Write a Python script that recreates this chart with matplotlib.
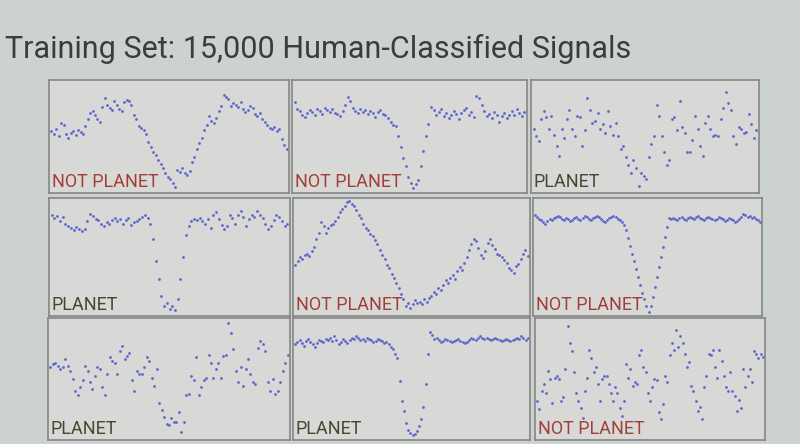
import numpy as np
import matplotlib
matplotlib.use("Agg")
import matplotlib.pyplot as plt

# light curve samples, height in % of panel (0 = bottom)
curve_1 = [55, 52, 57, 50, 63, 61, 52, 49, 53, 55, 51, 56, 54, 52,
           60, 66, 72, 74, 70, 66, 64, 78, 86, 80, 77, 75, 83, 80, 76, 74, 82, 84, 83, 80,
           70, 66, 60, 58, 56, 52, 45, 40, 35, 33, 28, 24, 20, 16, 12, 10, 6, 3,
           19, 17, 20, 16, 14, 18,
           26, 31, 38, 44, 49, 56, 61, 69, 65, 63, 67, 74, 79, 89, 87, 85,
           79, 81, 80, 78, 82, 76, 73, 75, 79, 77, 71, 69, 72, 66, 64, 61, 58, 57, 59, 55,
           57, 48, 42, 38]
curve_2 = [82, 76, 74, 70, 68, 72, 75, 73, 70, 76, 74, 71, 77, 75, 73, 76, 72, 71, 69, 74,
           80, 87, 83, 77, 74, 72, 76, 73, 75, 71, 74, 72, 68, 73, 75, 71, 70, 67, 64, 61,
           60, 50, 40, 30, 22, 12, 6, 2, 5, 9, 22, 36, 50, 62,
           78, 75, 70, 73, 76, 69, 72, 67, 70, 74, 71, 66, 72, 75, 77, 70, 73, 68, 88, 86,
           80, 74, 69, 71, 67, 73, 70, 64, 69, 72, 67, 70, 74, 70, 76, 72, 69, 73]
curve_3 = [57, 50, 46, 66, 74, 68, 57, 69, 51, 41, 32, 57, 49, 66, 75, 57, 50, 69, 68, 41,
           56, 86, 75, 63, 65, 72, 57, 62, 53, 74, 60, 51, 63, 50, 38, 41, 31, 23, 16, 28,
           20, 4, 16, 13, 10, 31, 43, 50, 80, 69, 50, 35, 23, 28, 66, 68, 56, 83, 59, 53,
           35, 35, 47, 69, 57, 41, 32, 63, 69, 57, 50, 51, 50, 66, 77, 92, 81, 75, 50, 43,
           59, 57, 53, 54, 71, 62, 49, 56]
curve_4 = [88, 85, 87, 82, 86, 80, 78, 76, 74, 77, 75, 73, 75, 82, 89, 87, 84, 83, 80, 78,
           81, 80, 83, 85, 82, 84, 80, 83, 85, 79, 81, 82, 84, 86, 88, 85, 80,
           66, 46, 30, 15, 6, 9, 3, 6, 2, 12, 30, 50, 70,
           78, 82, 84, 83, 85, 82, 80, 84, 76, 88, 90, 84, 79, 75, 78, 88, 85, 80, 88, 91,
           86, 78, 84, 88, 86, 91, 88, 85, 80, 75, 78, 83, 88, 86, 82, 78, 80]
curve_5 = [43, 46, 50, 48, 52, 53, 51, 55, 59,
           66, 72, 81, 78, 72, 76, 79, 80, 82, 86,
           90, 93, 96, 99, 100, 98, 96, 92, 88,
           85, 80, 76, 74, 71, 69, 65, 62, 56, 52, 48, 43, 40, 35, 31, 27, 22, 17, 12,
           6, 9, 4, 8, 11, 9, 10, 8, 12, 10, 13,
           15, 19, 17, 22, 20, 25, 29, 27, 31, 34, 30, 37, 41, 38, 45, 50,
           56, 62, 66, 64, 58, 52, 49,
           55, 63, 66, 61, 57, 53,
           52, 50, 47, 45, 40, 38, 36, 42, 44, 48, 53, 56, 51]
curve_6 = [88, 86, 84, 83, 81, 80, 82, 84, 83, 85, 86, 87, 86, 84, 83, 85, 84, 82, 83, 85,
           86, 84, 83, 85, 87, 86, 84, 83, 85, 86, 87, 86, 84, 82, 81, 83, 85, 86, 87, 86,
           84, 83, 81, 79,
           74, 67, 60, 53, 46, 39, 32, 25, 18, 12, 6, 1,
           6, 14, 23, 32, 41, 50, 59, 68, 77, 85,
           84, 85, 84, 83, 85, 86, 84, 83, 85, 86, 85, 84, 86, 87, 85, 84, 83, 85, 86, 85,
           84, 83, 84, 86, 85, 84, 82, 83, 85, 84, 83, 81, 82, 84, 86, 89, 88, 86, 87, 85,
           86, 84, 83, 81]
curve_7 = [60, 63, 64, 61, 59, 60, 67, 61, 57, 50, 40, 36, 43, 49, 61, 57, 47, 41, 53, 60,
           59, 43, 36, 54, 69, 66, 64, 54, 74, 79, 67, 70, 73, 49, 40, 57, 54, 54, 60, 69,
           66, 51, 44, 59, 29, 23, 17, 11, 10, 16, 13, 13, 21, 4, 13, 36, 37, 53, 49, 69,
           36, 43, 49, 51, 71, 64, 51, 59, 64, 51, 70, 71, 99, 90, 76, 57, 47, 60, 44, 59,
           67, 54, 47, 46, 77, 83, 80, 74, 47, 40, 50, 37, 40, 47, 57, 64, 71]
curve_8 = [80, 82, 84, 81, 79, 83, 85, 82, 80, 78, 81, 84, 83, 82, 85, 84, 86, 83, 87, 84,
           80, 82, 85, 83, 81, 84, 86, 85, 87, 86, 84, 85, 83, 86, 85, 84, 82, 83, 85, 84,
           83, 81, 82, 80, 78, 76, 72,
           68, 48, 31, 22, 12, 6, 3, 1, 2, 5, 9, 15, 26, 46, 72,
           91, 88, 85, 86, 84, 82, 83, 85, 84, 83, 82, 83, 84, 85, 83, 82, 81, 82, 84, 86,
           85, 84, 86, 87, 86, 85, 86, 85, 84, 85, 86, 85, 84, 83, 84, 85, 84, 83, 84, 85,
           86, 85, 87, 86, 84, 86]
curve_9 = [31, 24, 40, 46, 38, 57, 50, 29, 51, 53, 50, 31, 34, 59, 96, 81, 74, 56, 38, 31,
           25, 16, 40, 51, 75, 68, 56, 60, 46, 31, 50, 53, 53, 46, 38, 31, 43, 38, 25, 18,
           31, 63, 51, 59, 44, 47, 46, 71, 75, 60, 56, 38, 31, 43, 50, 49, 21, 15, 28, 53,
           47, 71, 81, 75, 93, 78, 87, 81, 72, 60, 65, 44, 40, 31, 22, 26, 15, 43, 53, 72,
           71, 75, 60, 51, 75, 66, 53, 43, 40, 56, 40, 35, 22, 32, 25, 59, 43, 53, 59, 47,
           74, 72, 68, 72, 69]

curves = [curve_1, curve_2, curve_3, curve_4, curve_5, curve_6, curve_7, curve_8, curve_9]
labels = ["NOT PLANET", "NOT PLANET", "PLANET",
          "PLANET", "NOT PLANET", "NOT PLANET",
          "PLANET", "PLANET", "NOT PLANET"]

# panel boxes in pixels: left, top, right, bottom (slide photographed slightly skewed)
boxes = [(49, 80, 289, 193), (292, 80, 527, 193), (531, 80, 759, 193),
         (49, 198, 290, 316), (293, 198, 530, 316), (533, 198, 762, 316),
         (48, 318, 290, 440), (293, 318, 530, 440), (535, 318, 765, 440)]

W, H = 800, 444
fig = plt.figure(figsize=(W / 100, H / 100), dpi=100)
fig.patch.set_facecolor("#cbd2cf")

fig.text(5 / W, 1 - 58 / H, "Training Set: 15,000 Human-Classified Signals",
         fontsize=22, family="Roboto", color="#3a3d3d", va="baseline", ha="left")

for curve, label, (l, t, r, b) in zip(curves, labels, boxes):
    ax = fig.add_axes([l / W, 1 - b / H, (r - l) / W, (b - t) / H])
    ax.set_facecolor("#d8d9d7")
    y = np.array(curve) / 100.0
    x = np.arange(len(y))
    ax.scatter(x, y, s=4, color="#6066cc", linewidths=0)
    ax.set_xlim(-1, len(y))
    ax.set_ylim(-0.03, 1.03)
    ax.set_xticks([])
    ax.set_yticks([])
    for sp in ax.spines.values():
        sp.set_color("#858786")
        sp.set_linewidth(1.2)
    col = "#a23e38" if label.startswith("NOT") else "#47472f"
    ax.text(0.012, 0.015, label, transform=ax.transAxes, fontsize=13,
            family="Roboto", color=col, ha="left", va="bottom")

fig.savefig("out.png", dpi=100, facecolor=fig.get_facecolor())
